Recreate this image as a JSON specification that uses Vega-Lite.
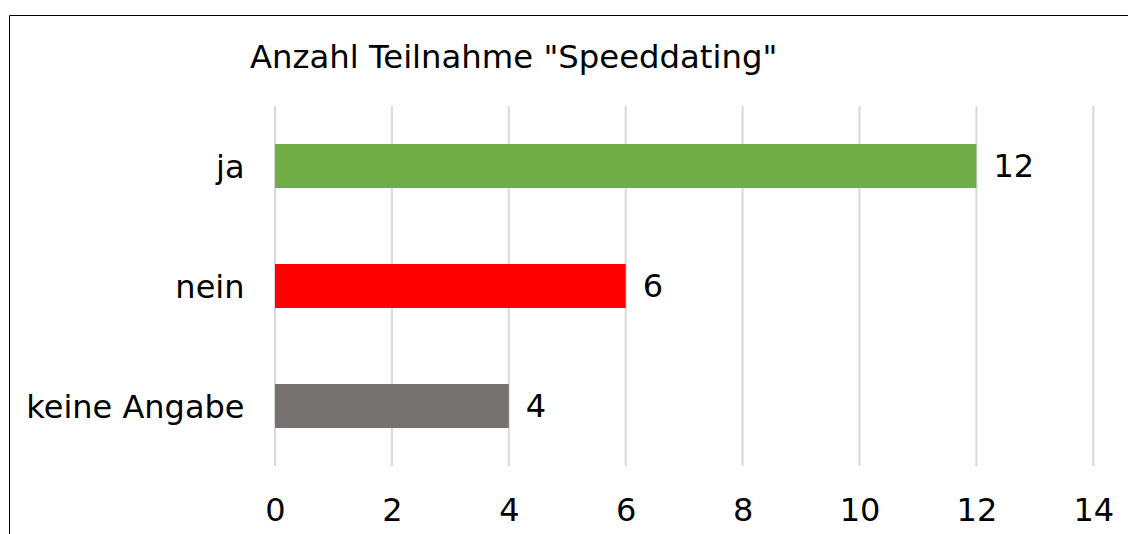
{
  "$schema": "https://vega.github.io/schema/vega-lite/v6.json",
  "width": 1125,
  "height": 525,
  "autosize": "none",
  "padding": {"left": 9, "top": 15, "right": -6, "bottom": -6},
  "background": "white",
  "config": {"view": {"stroke": "#000000", "strokeWidth": 1}, "font": "DejaVu Sans"},
  "title": {"text": "Anzahl Teilnahme \"Speeddating\"", "anchor": "start", "frame": "group", "offset": 0, "dx": 241, "dy": 85, "baseline": "alphabetic", "fontSize": 32.3, "fontWeight": "normal", "color": "#000000"},
  "datasets": {
    "main": [
      {"Antwort": "ja", "Anzahl": 12},
      {"Antwort": "nein", "Anzahl": 6},
      {"Antwort": "keine Angabe", "Anzahl": 4}
    ],
    "grid": [{"v": 0}, {"v": 2}, {"v": 4}, {"v": 6}, {"v": 8}, {"v": 10}, {"v": 12}, {"v": 14}]
  },
  "layer": [
    {
      "data": {"name": "grid"},
      "mark": {"type": "rule", "color": "#d9d9d9", "strokeWidth": 2},
      "encoding": {
        "x": {"field": "v", "type": "quantitative", "scale": {"domain": [0, 14], "range": [266, 1084.3]}, "axis": {"orient": "bottom", "values": [0, 2, 4, 6, 8, 10, 12, 14], "format": "d", "grid": false, "ticks": false, "domain": false, "labelFontSize": 32, "labelColor": "#000000", "labelBaseline": "alphabetic", "offset": -20, "labelPadding": 0, "title": null, "labelFlush": false, "labelOverlap": false}},
        "y": {"datum": "ja", "type": "nominal", "bandPosition": 0, "scale": {"domain": ["ja", "nein", "keine Angabe"], "range": [91, 451], "paddingInner": 0, "paddingOuter": 0}, "axis": {"orient": "left", "offset": -235, "ticks": false, "domain": false, "labelPadding": 0, "labelFontSize": 32, "labelColor": "#000000", "title": null, "grid": false, "labelLimit": 0, "labelBaseline": "middle", "labelOffset": 2}},
        "y2": {"datum": "keine Angabe", "bandPosition": 1}
      }
    },
    {
      "data": {"name": "main"},
      "mark": {"type": "bar", "height": {"band": 0.367}},
      "encoding": {
        "y": {"field": "Antwort", "type": "nominal"},
        "x": {"field": "Anzahl", "type": "quantitative"},
        "color": {"field": "Antwort", "type": "nominal", "scale": {"domain": ["ja", "nein", "keine Angabe"], "range": ["#70AD47", "#FF0000", "#767171"]}, "legend": null}
      }
    },
    {
      "data": {"name": "main"},
      "mark": {"type": "text", "align": "left", "baseline": "middle", "dx": 17, "dy": 1, "fontSize": 32, "color": "#000000"},
      "encoding": {
        "y": {"field": "Antwort", "type": "nominal"},
        "x": {"field": "Anzahl", "type": "quantitative"},
        "text": {"field": "Anzahl", "type": "quantitative"}
      }
    }
  ]
}
